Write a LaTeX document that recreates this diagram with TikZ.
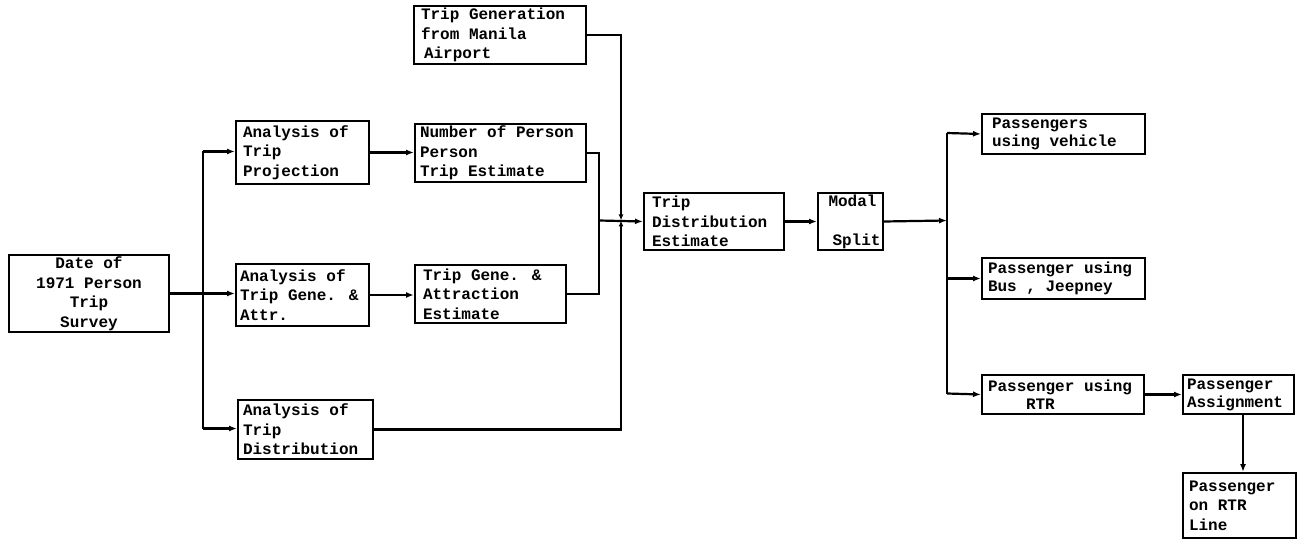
\documentclass[tikz,border=0pt]{standalone}
\usepackage{fontspec}
\newfontfamily\twfont{Liberation Mono}
\newcommand\twset[1]{\twfont\bfseries\fontsize{16}{#1}\selectfont}
\usetikzlibrary{arrows.meta,calc}
\tikzset{
  box/.style={draw, line width=2pt, anchor=north west, inner ysep=0pt, inner xsep=9pt,
    align=flush left, font=\twset{19.5}},
  conn/.style={line width=2.2pt},
  arr/.style={conn, -{Latex[length=8pt,width=6pt]}},
  sarr/.style={conn, -{Latex[length=6pt,width=5pt]}}
}
\begin{document}
\begin{tikzpicture}[x=1pt,y=-1pt]
\useasboundingbox (0,0) rectangle (1302,540);
% boxes
\node[box, minimum width=160pt, minimum height=77pt, text width=150pt, inner xsep=5pt, align=flush center] (survey) at (8,254) {Date of\\1971 Person\\Trip\\Survey};
\node[box, minimum width=133pt, minimum height=63pt, text width=119pt, inner xsep=7pt] (anaProj) at (235,120) {Analysis of\\Trip\\Projection};
\node[box, minimum width=171pt, minimum height=58pt, text width=161pt, inner xsep=5pt] (numPers) at (414,123) {Number of Person\\Person\\Trip Estimate};
\node[box, minimum width=133pt, minimum height=62pt, text width=125pt, inner xsep=4pt] (anaGene) at (235,263) {Analysis of\\Trip Gene. \&\\Attr.};
\node[box, minimum width=151pt, minimum height=58pt, text width=135pt, inner xsep=8pt] (tripGene) at (414,264) {Trip Gene. \&\\Attraction\\Estimate};
\node[box, minimum width=135pt, minimum height=59pt, text width=125pt, inner xsep=5pt] (anaDist) at (237,399) {Analysis of\\Trip\\Distribution};
\node[box, minimum width=172pt, minimum height=58pt, text width=158pt, inner xsep=7pt] (airport) at (413,5) {Trip Generation\\from Manila\\\hspace*{3pt}Airport};
\node[box, minimum width=140pt, minimum height=57pt, text width=124pt, inner xsep=8pt] (tripDist) at (643,192) {Trip\\Distribution\\Estimate};
\node[box, minimum width=65pt, minimum height=57pt, text width=60pt, inner xsep=2.5pt] (modal) at (817,192) {\hspace*{8pt}Modal\\[19.5pt]\hspace*{12pt}Split};
\node[box, minimum width=163pt, minimum height=40pt, text width=143pt, inner xsep=10pt, font=\twset{18}] (pVeh) at (981,113) {Passengers\\using vehicle};
\node[box, minimum width=163pt, minimum height=41pt, text width=151pt, inner xsep=6pt, font=\twset{18}] (pBus) at (981,257) {Passenger using\\Bus , Jeepney};
\node[box, minimum width=162pt, minimum height=39pt, text width=150pt, inner xsep=6pt, font=\twset{18}] (pRTR) at (981,374) {Passenger using\\\hspace*{38pt}RTR};
\node[box, minimum width=111pt, minimum height=39pt, text width=103pt, inner xsep=4pt, font=\twset{18}] (pAssign) at (1182,374) {Passenger\\Assignment};
\node[box, minimum width=113pt, minimum height=65pt, text width=101pt, inner xsep=6pt] (pLine) at (1182,472) {Passenger\\on RTR\\Line};
% junction coordinates
\coordinate (tk1) at (203,151.5);
\coordinate (tk2) at (203,428.5);
\coordinate (jA) at (599,220.5);
\coordinate (jB) at (621,220.5);
\coordinate (jC) at (947,220.5);
\coordinate (rt1) at (947,133);
\coordinate (rt2) at (947,393.5);
\coordinate (aS) at (1243,413);
% left fan-out
\draw[conn] (tk1) -- (tk2);
\draw[arr] (survey.east) -- (survey.east -| anaGene.west);
\draw[arr] (tk1) -- (tk1 -| anaProj.west);
\draw[arr] (tk2) -- (tk2 -| anaDist.west);
\draw[arr] (anaProj.east) -- (anaProj.east -| numPers.west);
\draw[arr] (anaGene.east) -- (anaGene.east -| tripGene.west);
% merge into trip distribution
\draw[conn] (numPers.east) -| (jA);
\draw[conn] (tripGene.east) -| (jA);
\draw[sarr] (airport.east) -| (jB);
\draw[sarr] (anaDist.east) -| (jB);
\draw[arr] (jA) -- (tripDist.west);
\draw[arr] (tripDist.east) -- (modal.west);
\draw[arr] (modal.east) -- (jC);
% right fan-out
\draw[conn] (rt1) -- (rt2);
\draw[arr] (rt1) -- (pVeh.west);
\draw[arr] (rt1 |- pBus.west) -- (pBus.west);
\draw[arr] (rt2) -- (pRTR.west);
\draw[arr] (pRTR.east) -- (pAssign.west);
\draw[arr] (aS) -- (aS |- pLine.north);
\end{tikzpicture}
\end{document}
